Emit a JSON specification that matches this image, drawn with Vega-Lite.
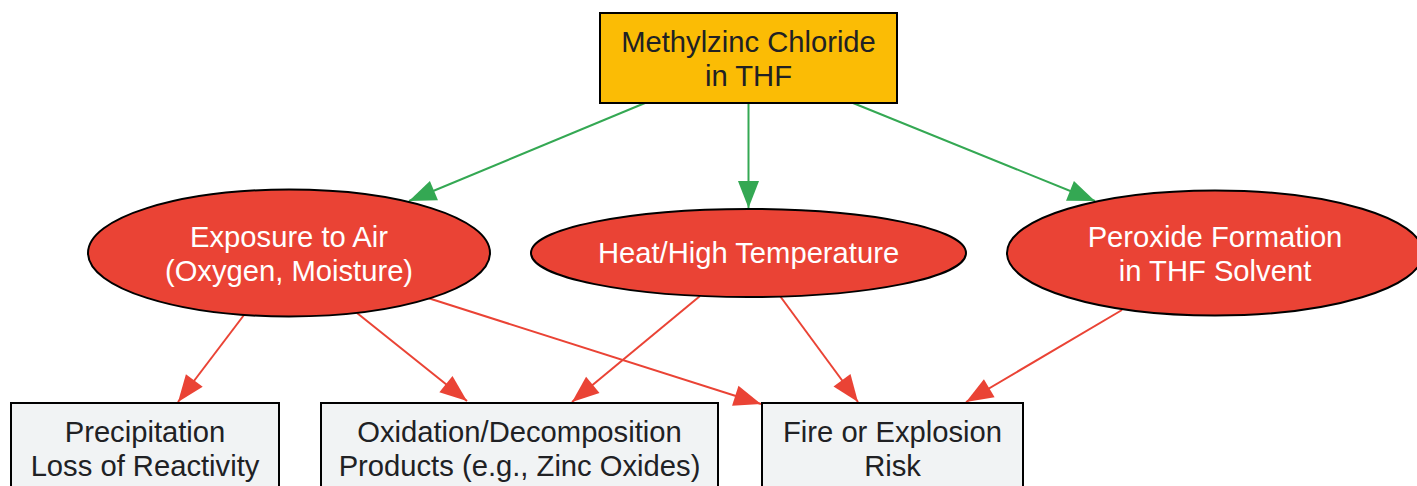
{
  "$schema": "https://vega.github.io/schema/vega-lite/v6.json",
  "width": 1417,
  "height": 486,
  "autosize": {"type": "fit", "contains": "padding"},
  "padding": 0,
  "background": "#ffffff",
  "config": {"view": {"stroke": null}},
  "datasets": {
    "nodes": [
      {"id": "mzc", "label": "Methylzinc Chloride\nin THF", "kind": "substance", "cx": 748.5, "cy": 58, "left": 600, "right": 897, "top": 13, "bottom": 103},
      {"id": "air", "label": "Exposure to Air\n(Oxygen, Moisture)", "kind": "hazard", "cx": 289, "cy": 253},
      {"id": "heat", "label": "Heat/High Temperature", "kind": "hazard", "cx": 748.5, "cy": 253},
      {"id": "perox", "label": "Peroxide Formation\nin THF Solvent", "kind": "hazard", "cx": 1215, "cy": 253},
      {"id": "precip", "label": "Precipitation\nLoss of Reactivity", "kind": "outcome", "cx": 145, "cy": 448, "left": 11, "right": 279, "top": 403, "bottom": 493},
      {"id": "oxid", "label": "Oxidation/Decomposition\nProducts (e.g., Zinc Oxides)", "kind": "outcome", "cx": 519.5, "cy": 448, "left": 321, "right": 718, "top": 403, "bottom": 493},
      {"id": "fire", "label": "Fire or Explosion\nRisk", "kind": "outcome", "cx": 892.5, "cy": 448, "left": 762, "right": 1023, "top": 403, "bottom": 493}
    ],
    "edges": [
      {"from": "mzc", "to": "air", "group": "source", "x1": 645, "y1": 103, "x2": 409, "y2": 201},
      {"from": "mzc", "to": "heat", "group": "source", "x1": 748.5, "y1": 103, "x2": 748.5, "y2": 208},
      {"from": "mzc", "to": "perox", "group": "source", "x1": 853, "y1": 103, "x2": 1095, "y2": 201},
      {"from": "air", "to": "precip", "group": "hazard", "x1": 244, "y1": 315, "x2": 178, "y2": 402},
      {"from": "air", "to": "oxid", "group": "hazard", "x1": 357, "y1": 313, "x2": 467, "y2": 401},
      {"from": "air", "to": "fire", "group": "hazard", "x1": 428, "y1": 298, "x2": 761, "y2": 404},
      {"from": "heat", "to": "oxid", "group": "hazard", "x1": 700, "y1": 296, "x2": 572, "y2": 402},
      {"from": "heat", "to": "fire", "group": "hazard", "x1": 780, "y1": 296, "x2": 858, "y2": 402},
      {"from": "perox", "to": "fire", "group": "hazard", "x1": 1122, "y1": 310, "x2": 966, "y2": 402}
    ]
  },
  "layer": [
    {
      "data": {"name": "edges"},
      "mark": {"type": "rule", "strokeWidth": 2},
      "encoding": {
        "x": {"field": "x1", "type": "quantitative", "scale": {"domain": [0, 1417], "nice": false, "zero": false}, "axis": null},
        "y": {"field": "y1", "type": "quantitative", "scale": {"domain": [0, 486], "nice": false, "zero": false, "reverse": true}, "axis": null},
        "x2": {"field": "x2"},
        "y2": {"field": "y2"},
        "color": {"field": "group", "type": "nominal", "scale": {"domain": ["source", "hazard"], "range": ["#34A853", "#EA4335"]}, "legend": null}
      }
    },
    {
      "data": {"name": "edges"},
      "transform": [
        {"calculate": "atan2(datum.x2 - datum.x1, -(datum.y2 - datum.y1)) * 180 / PI", "as": "heading"}
      ],
      "mark": {"type": "point", "filled": true, "opacity": 1, "shape": "M0,0L-0.39,1L0.39,1Z", "size": 2916, "strokeWidth": 0},
      "encoding": {
        "x": {"field": "x2", "type": "quantitative"},
        "y": {"field": "y2", "type": "quantitative"},
        "angle": {"field": "heading", "type": "quantitative", "scale": null},
        "color": {"field": "group", "type": "nominal", "scale": {"domain": ["source", "hazard"], "range": ["#34A853", "#EA4335"]}, "legend": null}
      }
    },
    {
      "data": {"name": "nodes"},
      "transform": [{"filter": "datum.kind != 'hazard'"}],
      "mark": {"type": "rect", "stroke": "#000000", "strokeWidth": 2, "clip": true},
      "encoding": {
        "x": {"field": "left", "type": "quantitative"},
        "x2": {"field": "right"},
        "y": {"field": "top", "type": "quantitative"},
        "y2": {"field": "bottom"},
        "fill": {"field": "kind", "type": "nominal", "scale": {"domain": ["substance", "outcome"], "range": ["#FBBC05", "#F1F3F4"]}, "legend": null}
      }
    },
    {
      "data": {"name": "nodes"},
      "transform": [{"filter": "datum.kind == 'hazard'"}],
      "mark": {"type": "point", "filled": true, "fill": "#EA4335", "opacity": 1, "stroke": "#000000", "strokeWidth": 2, "size": 193600, "clip": true},
      "encoding": {
        "x": {"field": "cx", "type": "quantitative"},
        "y": {"field": "cy", "type": "quantitative"},
        "shape": {
          "field": "id", "type": "nominal", "legend": null,
          "scale": {
            "domain": ["air", "heat", "perox"],
            "range": [
              "M-0.9136,0C-0.9136,-0.1594,-0.5046,-0.2886,0,-0.2886C0.5046,-0.2886,0.9136,-0.1594,0.9136,0C0.9136,0.1594,0.5046,0.2886,0,0.2886C-0.5046,0.2886,-0.9136,0.1594,-0.9136,0Z",
              "M-0.9886,0C-0.9886,-0.1105,-0.546,-0.2,0,-0.2C0.546,-0.2,0.9886,-0.1105,0.9886,0C0.9886,0.1105,0.546,0.2,0,0.2C-0.546,0.2,-0.9886,0.1105,-0.9886,0Z",
              "M-0.9455,0C-0.9455,-0.1569,-0.5222,-0.2841,0,-0.2841C0.5222,-0.2841,0.9455,-0.1569,0.9455,0C0.9455,0.1569,0.5222,0.2841,0,0.2841C-0.5222,0.2841,-0.9455,0.1569,-0.9455,0Z"
            ]
          }
        }
      }
    },
    {
      "data": {"name": "nodes"},
      "transform": [{"filter": "datum.id == 'heat'"}],
      "mark": {"type": "text", "font": "Liberation Sans", "fontSize": 29.2, "lineHeight": 34, "lineBreak": "\n", "align": "center", "baseline": "middle", "fill": "#ffffff", "dy": 1},
      "encoding": {
        "x": {"field": "cx", "type": "quantitative"},
        "y": {"field": "cy", "type": "quantitative"},
        "text": {"field": "label", "type": "nominal"}
      }
    },
    {
      "data": {"name": "nodes"},
      "transform": [{"filter": "datum.kind == 'hazard' && datum.id != 'heat'"}],
      "mark": {"type": "text", "font": "Liberation Sans", "fontSize": 29.2, "lineHeight": 34, "lineBreak": "\n", "align": "center", "baseline": "middle", "fill": "#ffffff", "dy": -15.5},
      "encoding": {
        "x": {"field": "cx", "type": "quantitative"},
        "y": {"field": "cy", "type": "quantitative"},
        "text": {"field": "label", "type": "nominal"}
      }
    },
    {
      "data": {"name": "nodes"},
      "transform": [{"filter": "datum.kind != 'hazard'"}],
      "mark": {"type": "text", "font": "Liberation Sans", "fontSize": 29.2, "lineHeight": 34, "lineBreak": "\n", "align": "center", "baseline": "middle", "fill": "#202124", "dy": -15.5, "clip": true},
      "encoding": {
        "x": {"field": "cx", "type": "quantitative"},
        "y": {"field": "cy", "type": "quantitative"},
        "text": {"field": "label", "type": "nominal"}
      }
    }
  ],
  "resolve": {"scale": {"color": "shared", "fill": "independent"}}
}
